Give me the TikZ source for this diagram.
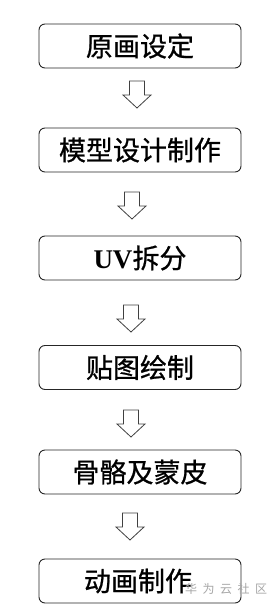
\documentclass[tikz,border=0pt]{standalone}
\usepackage{fontspec}
\newfontfamily\cjk[FakeBold=0.8]{Noto Sans CJK SC}
\newfontfamily\cjkwm{Noto Sans CJK SC}
\newfontfamily\tnr{Liberation Serif}
\begin{document}
\begin{tikzpicture}[x=1pt,y=-1pt,
  stepbox/.style={draw=black!85, line width=0.9pt, rounded corners=6pt, minimum width=202pt, minimum height=44pt, inner sep=0pt, font=\cjk\fontsize{27}{27}\selectfont},
  hollowarrow/.style={draw=black!75, line width=0.8pt, fill=white}]
\useasboundingbox (0,0) rectangle (277,613);
\node[stepbox] (b1) at (140,46) {原画设定};
\node[stepbox] (b2) at (140,150) {模型设计制作};
\node[stepbox] (b3) at (140,258) {{\tnr\bfseries UV}拆分};
\node[stepbox] (b4) at (140,367.5) {贴图绘制};
\node[stepbox] (b5) at (140,472) {骨骼及蒙皮};
\node[stepbox] (b6) at (140,581) {\hspace*{-4pt}动画制作};
\foreach \name/\cx/\ty in {a1/137/81, a2/132/192, a3/131/305, a4/131/410, a5/130/513}{
  \coordinate (\name) at (\cx,\ty);
  \draw[hollowarrow] ([xshift=-7.5pt]\name) -- ([xshift=7.5pt]\name) -- ([xshift=7.5pt,yshift=-14pt]\name) -- ([xshift=14pt,yshift=-14pt]\name) -- ([yshift=-27pt]\name) -- ([xshift=-14pt,yshift=-14pt]\name) -- ([xshift=-7.5pt,yshift=-14pt]\name) -- cycle;
}
\node[text=black!35, font=\cjkwm\fontsize{12}{12}\selectfont, anchor=west, inner sep=0pt] (wm) at (185,589) {华\hspace{5.5pt}为\hspace{5.5pt}云\hspace{5.5pt}社\hspace{5.5pt}区};
\end{tikzpicture}
\end{document}
